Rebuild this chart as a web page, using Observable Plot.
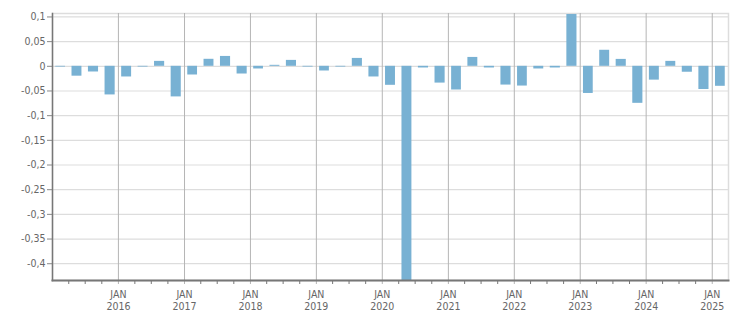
<!DOCTYPE html>
<html>
<head>
<meta charset="utf-8">
<script src="https://cdn.jsdelivr.net/npm/d3@7"></script>
<script src="https://cdn.jsdelivr.net/npm/@observablehq/plot@0.6"></script>
<style>
  html, body { margin: 0; padding: 0; background: #fff; }
</style>
</head>
<body>
<div id="chart"></div>
<script>
// Quarters (categories)
const quarters = [
  "2015-Q1","2015-Q2","2015-Q3","2015-Q4",
  "2016-Q1","2016-Q2","2016-Q3","2016-Q4",
  "2017-Q1","2017-Q2","2017-Q3","2017-Q4",
  "2018-Q1","2018-Q2","2018-Q3","2018-Q4",
  "2019-Q1","2019-Q2","2019-Q3","2019-Q4",
  "2020-Q1","2020-Q2","2020-Q3","2020-Q4",
  "2021-Q1","2021-Q2","2021-Q3","2021-Q4",
  "2022-Q1","2022-Q2","2022-Q3","2022-Q4",
  "2023-Q1","2023-Q2","2023-Q3","2023-Q4",
  "2024-Q1","2024-Q2","2024-Q3","2024-Q4",
  "2025-Q1"
];
// Values
const values = [
  -0.0015, -0.020, -0.0115, -0.058,
  -0.0216, -0.0015, 0.010, -0.062,
  -0.0176, 0.0142, 0.020, -0.0156,
  -0.0054, 0.002, 0.012, -0.0015,
  -0.0095, -0.0015, 0.016, -0.0216,
  -0.0385, -0.47, -0.0034, -0.034,
  -0.048, 0.018, -0.0034, -0.038,
  -0.040, -0.0054, -0.0034, 0.105,
  -0.055, 0.0325, 0.014, -0.075,
  -0.028, 0.010, -0.012, -0.047,
  -0.0405
];
// Axis ticks
const yTicks = [-0.4, -0.35, -0.3, -0.25, -0.2, -0.15, -0.1, -0.05, 0, 0.05, 0.1];
const tickYears = [2016, 2017, 2018, 2019, 2020, 2021, 2022, 2023, 2024, 2025];
const xStart = "2015-01-01";
const xEnd = "2025-04-01";

const data = quarters.map((q, i) => {
  const [yy, qq] = q.split("-Q").map(Number);
  const start = new Date(Date.UTC(yy, (qq - 1) * 3, 1));
  const end = d3.utcMonth.offset(start, 3);
  return {start, end, value: values[i]};
});
const yearDates = tickYears.map(y => new Date(Date.UTC(y, 0, 1)));
const quarterDates = d3.utcMonth.every(3).range(new Date(xStart), new Date(xEnd))
  .filter(d => d.getUTCMonth() !== 0);

const fmt = d => String(d).replace(".", ",");

const chart = Plot.plot({
  width: 751,
  height: 313,
  marginLeft: 52,
  marginRight: 23,
  marginTop: 13,
  marginBottom: 33,
  style: {
    fontFamily: "'DejaVu Sans Condensed', 'Liberation Sans', sans-serif",
    fontSize: "10.5px",
    color: "#666",
    background: "#fff"
  },
  x: {type: "utc", domain: [new Date(xStart), new Date(xEnd)], label: null},
  y: {domain: [-0.434, 0.107], label: null},
  marks: [
    Plot.frame({stroke: "#dddddd", strokeWidth: 1.5}),
    Plot.gridY(yTicks, {stroke: "#dddddd", strokeOpacity: 1, strokeWidth: 1.2}),
    Plot.gridX(yearDates, {stroke: "#b5b5b5", strokeOpacity: 1}),
    Plot.rectY(data, {
      x1: "start", x2: "end", y: "value",
      fill: "#78b1d3", insetLeft: 3.25, insetRight: 3.25, clip: true
    }),
    Plot.axisY({
      ticks: yTicks, tickSize: 5, tickPadding: 2, tickFormat: fmt,
      stroke: "#888", fill: "#666", label: null
    }),
    Plot.axisX({
      ticks: quarterDates, tickSize: 4, tickFormat: () => "",
      stroke: "#777", label: null
    }),
    Plot.axisX({
      ticks: yearDates, tickSize: 4, tickPadding: 5,
      tickFormat: d => "JAN\n" + d.getUTCFullYear(),
      lineHeight: 1.15, stroke: "#b5b5b5", fill: "#666", label: null
    }),
    Plot.frame({anchor: "left", stroke: "#777", strokeWidth: 1.5}),
    Plot.frame({anchor: "bottom", stroke: "#777", strokeWidth: 2})
  ]
});
document.getElementById("chart").appendChild(chart);
</script>
</body>
</html>
